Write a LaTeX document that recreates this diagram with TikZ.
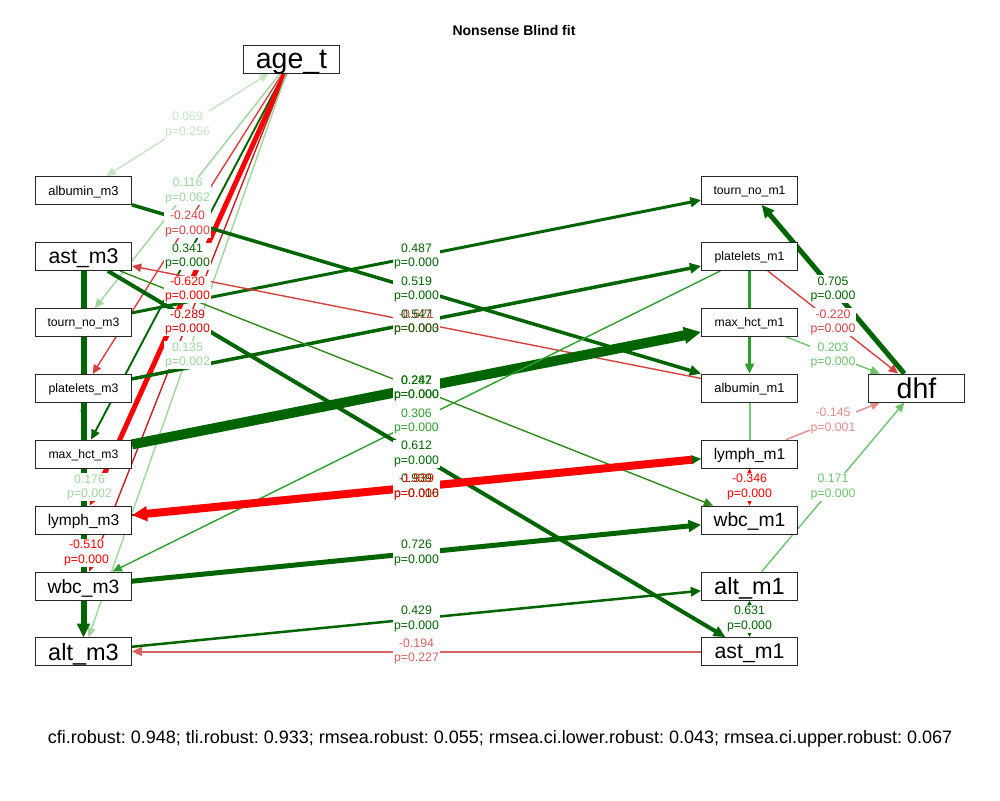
\documentclass[tikz,border=0pt]{standalone}
\usepackage{fontspec}
\setmainfont{Liberation Sans}
\usetikzlibrary{arrows.meta}
\pgfdeclarelayer{bglayer}
\pgfdeclarelayer{edgelayer}
\pgfdeclarelayer{labellayer}
\pgfsetlayers{bglayer,edgelayer,labellayer,main}
\newcommand\myfs[1]{\fontsize{#1}{#1}\selectfont}
\definecolor{dg}{HTML}{006400}
\definecolor{gA}{HTML}{C5E5C5}
\definecolor{gB}{HTML}{9ED69E}
\definecolor{gC}{HTML}{6CC46C}
\definecolor{gD}{HTML}{2EA02E}
\definecolor{gE}{HTML}{2F8A1A}
\definecolor{gF}{HTML}{7CC87C}
\definecolor{rA}{HTML}{FF0000}
\definecolor{rB}{HTML}{C42020}
\definecolor{rC}{HTML}{D84040}
\definecolor{rD}{HTML}{DC6060}
\definecolor{rE}{HTML}{E48A8A}
\tikzset{
  box/.style={draw=black!85, line width=0.9pt, fill=white, minimum width=96pt,
    minimum height=28pt, inner sep=0pt, text=black, text depth=0pt},
  ar/.style={-{Triangle[length=8pt 0.9,width=7pt 0.9]}},
  bi/.style={{Triangle[length=8pt 0.9,width=7pt 0.9]}-{Triangle[length=8pt 0.9,width=7pt 0.9]}},
  thin line/.style={line width=1.4pt},
  lab/.style={fill=white, inner sep=1pt, align=center, font=\fontsize{12.3}{14.5}\selectfont},
}
\begin{document}
\begin{tikzpicture}[x=1pt,y=-1pt]
\begin{pgfonlayer}{bglayer}
\fill[white] (0,0) rectangle (1000,800);
\end{pgfonlayer}
\useasboundingbox (0,0) rectangle (1000,800);
% title and fit line
\node[font=\bfseries\myfs{14}] (title) at (514,30) {Nonsense Blind fit};
\node[font=\myfs{18}\frenchspacing] (fit) at (500,739) {cfi.robust: 0.948; tli.robust: 0.933; rmsea.robust: 0.055; rmsea.ci.lower.robust: 0.043; rmsea.ci.upper.robust: 0.067};
% nodes
\node[box, font=\myfs{28.5}] (age) at (291.5,59) {age\_t};
\node[box, font=\myfs{12.9}] (albumin3) at (83.5,190.5) {albumin\_m3};
\node[box, font=\myfs{21.3}] (ast3) at (83.5,256.5) {ast\_m3};
\node[box, font=\myfs{12.2}] (tourn3) at (83.5,322.5) {tourn\_no\_m3};
\node[box, font=\myfs{12.3}] (plat3) at (83.5,388.5) {platelets\_m3};
\node[box, font=\myfs{12.2}] (hct3) at (83.5,454) {max\_hct\_m3};
\node[box, font=\myfs{15.5}] (lymph3) at (83.5,520) {lymph\_m3};
\node[box, font=\myfs{19.3}] (wbc3) at (83.5,586) {wbc\_m3};
\node[box, font=\myfs{23.5}] (alt3) at (83.5,651.5) {alt\_m3};
\node[box, font=\myfs{12.2}] (tourn1) at (749.5,190.5) {tourn\_no\_m1};
\node[box, font=\myfs{12.3}] (plat1) at (749.5,256.5) {platelets\_m1};
\node[box, font=\myfs{12.2}] (hct1) at (749.5,322.5) {max\_hct\_m1};
\node[box, font=\myfs{12.9}] (albumin1) at (749.5,388) {albumin\_m1};
\node[box, font=\myfs{15.5}] (lymph1) at (749.5,454) {lymph\_m1};
\node[box, font=\myfs{19.3}] (wbc1) at (749.5,520) {wbc\_m1};
\node[box, font=\myfs{23.5}] (alt1) at (749.5,586) {alt\_m1};
\node[box, font=\myfs{21.3}] (ast1) at (749.5,651.5) {ast\_m1};
\node[box, font=\myfs{28.5}] (dhf) at (916.5,388) {dhf};
% edges
\begin{pgfonlayer}{edgelayer}
\draw[bi, gA, thin line] (age) -- (albumin3) coordinate[pos=.5] (e1);
\draw[ar, gB, thin line] (age) -- (tourn3) coordinate[pos=.5] (e2);
\draw[ar, rC, thin line] (age) -- (plat3) coordinate[pos=.5] (e3);
\draw[ar, dg, line width=1.9pt] (age) -- (hct3) coordinate[pos=.5] (e4);
\draw[ar, rA, line width=5pt] (age) -- (lymph3) coordinate[pos=.5] (e5);
\draw[ar, rB, thin line] (age) -- (wbc3) coordinate[pos=.5] (e6);
\draw[ar, gB, thin line] (age) -- (alt3) coordinate[pos=.5] (e7);
\draw[ar, gB, thin line] (wbc3) -- (plat3) coordinate[pos=.5] (e8);
\draw[ar, rA, thin line] (hct3) -- (alt3) coordinate[pos=.5] (e9);
\draw[ar, dg, line width=6pt] (ast3) -- (alt3);
\draw[ar, dg, line width=3pt] (tourn3) -- (tourn1) coordinate[pos=.5] (e10);
\draw[ar, dg, line width=3.5pt] (albumin3) -- (albumin1) coordinate[pos=.5] (e11);
\draw[ar, dg, line width=3.5pt] (plat3) -- (plat1) coordinate[pos=.5] (e12);
\draw[ar, rC, thin line] (albumin1) -- (ast3) coordinate[pos=.5] (e13);
\draw[ar, gE, thin line] (ast3) -- (wbc1) coordinate[pos=.5] (e14);
\draw[ar, dg, line width=10pt] (hct3) -- (hct1) coordinate[pos=.5] (e15);
\draw[ar, gD, thin line] (plat1) -- (wbc3) coordinate[pos=.5] (e16);
\draw[ar, dg, line width=4pt] (ast3) -- (ast1) coordinate[pos=.5] (e17);
\draw[ar, dg, line width=2pt] (lymph3) -- (lymph1) coordinate[pos=.5] (e18);
\draw[ar, rA, line width=8pt, shorten <=9pt] (lymph1) -- (lymph3) coordinate[pos=.5] (e19);
\draw[ar, dg, line width=5pt] (wbc3) -- (wbc1) coordinate[pos=.5] (e20);
\draw[ar, dg, line width=2.5pt] (alt3) -- (alt1) coordinate[pos=.5] (e21);
\draw[ar, rD, line width=2pt] (ast1) -- (alt3) coordinate[pos=.5] (e22);
\draw[ar, dg, line width=5pt] (dhf) -- (tourn1) coordinate[pos=.5] (e23);
\draw[ar, rC, thin line] (plat1) -- (dhf) coordinate[pos=.5] (e24);
\draw[ar, gC, thin line] (hct1) -- (dhf) coordinate[pos=.5] (e25);
\draw[ar, rE, thin line] (lymph1) -- (dhf) coordinate[pos=.5] (e26);
\draw[ar, gC, thin line] (alt1) -- (dhf) coordinate[pos=.5] (e27);
\draw[bi, rA, line width=2pt] (lymph1) -- (wbc1) coordinate[pos=.5] (e28);
\draw[bi, dg, line width=3pt] (alt1) -- (ast1) coordinate[pos=.5] (e29);
\draw[ar, gD, line width=2.2pt] (plat1) -- (albumin1);
\draw[gF, line width=2pt] (albumin1) -- (lymph1);
\end{pgfonlayer}
% labels
\begin{pgfonlayer}{labellayer}
\node[lab, text=gA] (l1) at (e1) {0.069\\p=0.256};
\node[lab, text=gB] (l2) at (e2) {0.116\\p=0.062};
\node[lab, text=rC] (l3) at (e3) {-0.240\\p=0.000};
\node[lab, text=dg] (l4) at (e4) {0.341\\p=0.000};
\node[lab, text=rA] (l5) at (e5) {-0.620\\p=0.000};
\node[lab, text=rA!85!black] (l6) at (e6) {-0.289\\p=0.000};
\node[lab, text=gB] (l7) at (e7) {0.135\\p=0.002};
\node[lab, text=gB, xshift=6pt] (l8) at (e8) {0.176\\p=0.002};
\node[lab, text=rA, xshift=3pt] (l9) at (e9) {-0.510\\p=0.000};
\node[lab, text=dg] (l10) at (e10) {0.487\\p=0.000};
\node[lab, text=dg] (l11) at (e11) {0.519\\p=0.000};
\node[lab, text=rC] (l13) at (e13) {-0.621\\p=0.003};
\node[lab, text=dg, fill=none] (l12) at (e12) {0.547\\p=0.000};
\node[lab, text=gE] (l14) at (e14) {0.282\\p=0.000};
\node[lab, text=dg, fill=none] (l15) at (e15) {0.247\\p=0.000};
\node[lab, text=gD] (l16) at (e16) {0.306\\p=0.000};
\node[lab, text=dg] (l17) at (e17) {0.612\\p=0.000};
\node[lab, text=dg] (l18) at (e18) {0.939\\p=0.016};
\node[lab, text=rA, fill=none] (l19) at (e19) {-1.939\\p=0.000};
\node[lab, text=dg] (l20) at (e20) {0.726\\p=0.000};
\node[lab, text=dg] (l21) at (e21) {0.429\\p=0.000};
\node[lab, text=rD] (l22) at (e22) {-0.194\\p=0.227};
\node[lab, text=dg] (l23) at (e23) {0.705\\p=0.000};
\node[lab, text=rC] (l24) at (e24) {-0.220\\p=0.000};
\node[lab, text=gC] (l25) at (e25) {0.203\\p=0.000};
\node[lab, text=rE] (l26) at (e26) {-0.145\\p=0.001};
\node[lab, text=gC] (l27) at (e27) {0.171\\p=0.000};
\node[lab, text=rA] (l28) at (e28) {-0.346\\p=0.000};
\node[lab, text=dg] (l29) at (e29) {0.631\\p=0.000};
\end{pgfonlayer}
\end{tikzpicture}
\end{document}
